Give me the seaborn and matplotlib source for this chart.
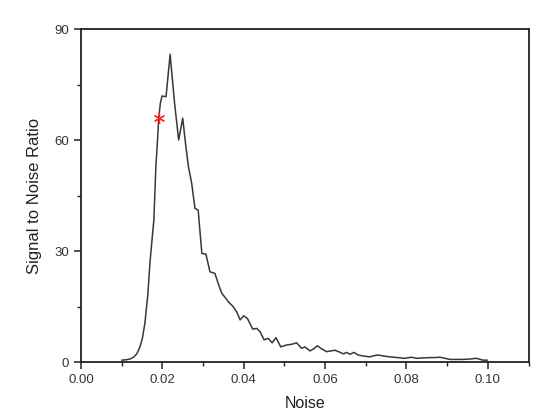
import numpy as np
import pandas as pd
import matplotlib
matplotlib.use("Agg")
import matplotlib.pyplot as plt
from matplotlib.ticker import MultipleLocator
import seaborn as sns

# ---- data ----
noise = [0.0100, 0.0110, 0.0120, 0.0129, 0.0137, 0.0145, 0.0151, 0.0157, 0.0164,
         0.0170, 0.0179, 0.0184, 0.0188, 0.0191, 0.0195, 0.0199, 0.0209, 0.0219,
         0.0230, 0.0240, 0.0250, 0.0257, 0.0264, 0.0272, 0.0280, 0.0288, 0.0297,
         0.0307, 0.0317, 0.0329, 0.0338, 0.0346, 0.0354, 0.0362, 0.0374, 0.0383,
         0.0391, 0.0400, 0.0409, 0.0422, 0.0432, 0.0440, 0.0450, 0.0460, 0.0470,
         0.0479, 0.0491, 0.0505, 0.0518, 0.0530, 0.0542, 0.0550, 0.0563, 0.0572,
         0.0581, 0.0592, 0.0604, 0.0614, 0.0624, 0.0635, 0.0645, 0.0653, 0.0661,
         0.0671, 0.0681, 0.0695, 0.0710, 0.0720, 0.0730, 0.0745, 0.0759, 0.0778,
         0.0796, 0.0812, 0.0825, 0.0840, 0.0857, 0.0870, 0.0882, 0.0895, 0.0907,
         0.0922, 0.0939, 0.0955, 0.0972, 0.0988, 0.0999]
snr = [0.5, 0.6, 0.8, 1.3, 2.2, 4.1, 6.5, 10.5, 18.0,
       27.6, 38.4, 52.9, 60.0, 66.0, 70.0, 72.0, 71.8, 83.3,
       70.0, 60.1, 66.0, 59.0, 52.9, 48.4, 41.6, 41.1, 29.4,
       29.2, 24.4, 24.0, 21.0, 18.6, 17.5, 16.3, 15.0, 13.5,
       11.4, 12.5, 11.8, 8.9, 9.1, 8.2, 6.0, 6.4, 5.2,
       6.6, 4.1, 4.6, 4.8, 5.2, 3.7, 4.1, 3.0, 3.6,
       4.4, 3.5, 2.8, 3.0, 3.2, 2.7, 2.2, 2.6, 2.1,
       2.6, 1.9, 1.6, 1.4, 1.7, 1.9, 1.6, 1.4, 1.2,
       1.0, 1.3, 1.0, 1.1, 1.2, 1.2, 1.3, 1.0, 0.7,
       0.7, 0.7, 0.8, 1.0, 0.5, 0.5]

# highlighted point
best_noise = [0.0191]
best_snr = [66.0]

df = pd.DataFrame({"Noise": noise, "SNR": snr})

sns.set_style("ticks")
plt.rcParams["font.family"] = ["Liberation Sans", "DejaVu Sans"]

fig = plt.figure(figsize=(5.5, 4.19), dpi=100)
ax = fig.add_axes([0.1473, 0.136, 0.8137, 0.7936])

sns.lineplot(data=df, x="Noise", y="SNR", ax=ax, color="#383838", linewidth=1.1)
ax.plot(best_noise, best_snr, linestyle="none", marker=(6, 2, 0),
        markersize=8, color="#ff2222", markeredgewidth=0.9)

ax.set_xlim(0, 0.11)
ax.set_ylim(0, 90)
ax.xaxis.set_major_locator(MultipleLocator(0.02))
ax.xaxis.set_minor_locator(MultipleLocator(0.01))
ax.yaxis.set_major_locator(MultipleLocator(30))
ax.yaxis.set_minor_locator(MultipleLocator(15))
ax.xaxis.set_major_formatter(matplotlib.ticker.FormatStrFormatter("%.2f"))

ax.tick_params(which="major", direction="out", length=5, width=1.1,
               colors="#222222", labelsize=9.5, labelcolor="#333333")
ax.tick_params(which="minor", direction="out", length=3, width=1.0, colors="#222222")
for sp in ax.spines.values():
    sp.set_linewidth(1.3)
    sp.set_color("#222222")

ax.set_xlabel("Noise", fontsize=11.5, color="#222222", labelpad=7)
ax.set_ylabel("Signal to Noise Ratio", fontsize=12, color="#222222", labelpad=9)

fig.savefig("out.png", dpi=100)
